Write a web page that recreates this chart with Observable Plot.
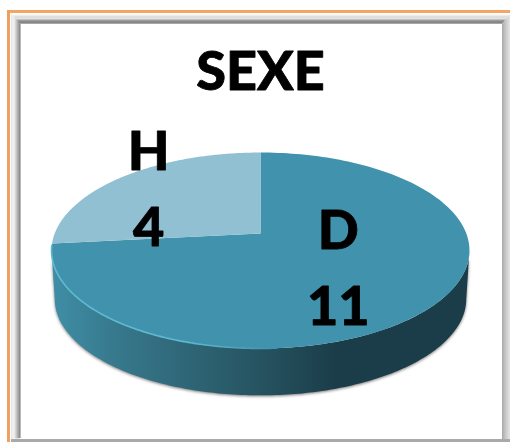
<!DOCTYPE html>
<html>
<head>
<meta charset="utf-8">
<script src="https://cdn.jsdelivr.net/npm/d3@7"></script>
<script src="https://cdn.jsdelivr.net/npm/@observablehq/plot@0.6"></script>
<style>
  html, body { margin: 0; padding: 0; background: #fff; }
  #wrap { position: relative; width: 510px; height: 442px; overflow: hidden; background: #fff; }
  #wrap > div { position: absolute; }
  #wrap svg { position: absolute; left: 0; top: 0; background: transparent; }
  #o1 { left: 7px; top: 10px; right: 0; height: 2.5px; background: #f4a564; }
  #o2 { left: 7px; top: 10px; bottom: 0; width: 2.5px; background: #eda05f; }
  #b1 { left: 11px; top: 14px; right: 0; height: 10px; background: linear-gradient(to bottom, #fff, #d9d9d9 30%, #e4e4e4 45%, #8c8c8c 70%, #858585 90%, #c8c8c8); clip-path: polygon(0 0, 100% 0, 100% 0, calc(100% - 8px) 100%, 9px 100%); }
  #b2 { left: 11px; top: 14px; bottom: 3px; width: 10px; background: linear-gradient(to right, #e6e6e6, #f2f2f2 30%, #c4c4c4 55%, #8f8f8f 85%, #cfcfcf); clip-path: polygon(0 0, 100% 10px, 100% calc(100% - 1px), 0 100%); }
  #b3 { right: 0; top: 14px; bottom: 0; width: 8px; background: linear-gradient(to right, #a8a8a8, #c4c4c4 40%, #e6e6e6); clip-path: polygon(0 10px, 100% 0, 100% 100%, 0 calc(100% - 3px)); }
  #b4 { left: 11px; right: 0; bottom: 0; height: 3px; background: #a9a9a9; }
</style>
</head>
<body>
<div id="wrap">
  <div id="o1"></div><div id="o2"></div>
  <div id="b1"></div><div id="b2"></div><div id="b3"></div><div id="b4"></div>
</div>
<script>
const title = "SEXE";
const categories = ["D", "H"];
const counts = [11, 4];
const sliceColors = ["#4193ad", "#92c0d3"];
const labelRadius = [0.48, 0.8];

const radiusPx = 205.8;   // chart units to pixels
const tilt = 0.4617, perspective = 0.1735, depth = 0.238, floorScale = 0.985;

// perspective projection of a point on the disc (a = clockwise from the top)
function project(a, r = 1, level = 0) {
  const X = r * Math.sin(a), Y = r * Math.cos(a), w = 1 + perspective * Y;
  return {x: X / w, y: tilt * Y / w - level * depth};
}
const arc = (a0, a1, r = 1, level = 0) =>
  d3.range(0, 181).map(i => project(a0 + (a1 - a0) * i / 180, r, level));

const slices = d3.pie().sort(null).startAngle(0).endAngle(2 * Math.PI)(counts);
const wedges = slices.map(s => [project(0, 0), ...arc(s.startAngle, s.endAngle)]);

// silhouette of the disc edge: from the right extreme, under the front, to the left extreme
const leftA = Math.PI * 1.5 - 0.174, rightA = Math.PI * 0.5 + 0.174;
const side = [
  ...arc(rightA, leftA),
  ...arc(leftA, rightA, floorScale, 1)
];
const rim = arc(leftA + 0.05, Math.PI * 0.98);

const labels = slices.flatMap((s, i) => {
  const p = project((s.startAngle + s.endAngle) / 2, labelRadius[i]);
  return [
    {x: p.x, y: p.y, text: categories[i], line: 0},
    {x: p.x, y: p.y, text: String(counts[i]), line: 1}
  ];
});

const defs = () => {
  const d = d3.create("svg:defs");
  const g1 = d.append("linearGradient").attr("id", "sideFill");
  [[0, "#3f8ea6"], [0.15, "#37798d"], [0.5, "#265360"], [0.68, "#1b3d49"], [1, "#1b3d49"]]
    .forEach(([o, c]) => g1.append("stop").attr("offset", o).attr("stop-color", c));
  const g2 = d.append("linearGradient").attr("id", "rimStroke");
  [[0, "#5fb9d2"], [0.6, "#5fb9d2"], [1, "#4193ad"]]
    .forEach(([o, c]) => g2.append("stop").attr("offset", o).attr("stop-color", c));
  return d.node();
};

const textStyle = {
  fontFamily: "Lato, 'Open Sans', sans-serif",
  fontWeight: 900,
  fontSize: 54,
  fill: "#000",
  stroke: "#000",
  strokeWidth: 0.8
};

const chart = Plot.plot({
  width: 510,
  height: 442,
  margin: 0,
  x: {domain: [-260 / radiusPx, 250 / radiusPx], axis: null},
  y: {domain: [-209 / radiusPx, 233 / radiusPx], axis: null},
  style: {background: "transparent"},
  marks: [
    defs,
    Plot.line(side, {
      x: "x", y: "y", curve: "linear", fill: "url(#sideFill)", stroke: "none",
      imageFilter: "drop-shadow(0px 1px 1.5px #777)"
    }),
    ...wedges.map((w, i) =>
      Plot.line(w, {x: "x", y: "y", curve: "linear", fill: sliceColors[i], stroke: "none"})
    ),
    Plot.line(rim, {x: "x", y: "y", curve: "linear", stroke: "url(#rimStroke)", strokeWidth: 1.6}),
    Plot.text(labels.filter(d => d.line === 0), {x: "x", y: "y", text: "text", dy: -34, ...textStyle}),
    Plot.text(labels.filter(d => d.line === 1), {x: "x", y: "y", text: "text", dy: 42, ...textStyle}),
    Plot.text([title], {frameAnchor: "top", dx: 5, dy: 72, lineAnchor: "middle", ...textStyle})
  ]
});
document.getElementById("wrap").appendChild(chart);
</script>
</body>
</html>
